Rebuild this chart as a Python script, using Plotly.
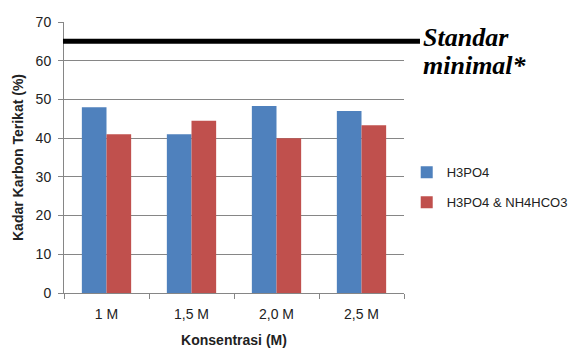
import plotly.graph_objects as go

categories = ["1 M", "1,5 M", "2,0 M", "2,5 M"]
h3po4 = [48.0, 41.0, 48.3, 47.0]
h3po4_nh4hco3 = [41.0, 44.5, 40.0, 43.3]
standard_value = 65
y_ticks = [0, 10, 20, 30, 40, 50, 60, 70]

font_family = "Liberation Sans, Arial, sans-serif"
serif = "Liberation Serif, Times New Roman, serif"

fig = go.Figure()
fig.add_trace(go.Bar(x=categories, y=h3po4, name="H3PO4",
                     marker=dict(color="#4F81BD", line=dict(width=0)),
                     legendgroup="a"))
fig.add_trace(go.Bar(x=categories, y=h3po4_nh4hco3, name="H3PO4 & NH4HCO3",
                     marker=dict(color="#C0504D", line=dict(width=0)),
                     legendgroup="b"))

fig.add_shape(type="line", xref="paper", yref="y", x0=-0.003, x1=1.047,
              y0=standard_value, y1=standard_value,
              line=dict(color="black", width=5))
fig.add_annotation(xref="paper", yref="y", x=1.05, y=standard_value,
                   text="<b><i>Standar</i></b>", showarrow=False,
                   xanchor="left", yanchor="middle", yshift=4,
                   font=dict(family=serif, size=26, color="black"))
fig.add_annotation(xref="paper", yref="y", x=1.05, y=standard_value,
                   text="<b><i>minimal*</i></b>", showarrow=False,
                   xanchor="left", yanchor="middle", yshift=-24,
                   font=dict(family=serif, size=26, color="black"))

fig.update_layout(
    width=581, height=349,
    margin=dict(l=64, r=177, t=22, b=56, autoexpand=False),
    paper_bgcolor="white", plot_bgcolor="white",
    barmode="group", bargap=0.42, bargroupgap=0,
    font=dict(family=font_family, size=14, color="#222"),
    showlegend=True,
    legend=dict(x=1.008, y=0.39, xanchor="left", yanchor="middle",
                font=dict(size=13, color="#222"), tracegroupgap=10,
                bgcolor="rgba(0,0,0,0)"),
    xaxis=dict(type="category", showline=True, linecolor="#868686", linewidth=1,
               ticks="outside", tickson="boundaries", ticklen=5, tickcolor="#868686",
               showgrid=False, ticklabelstandoff=8,
               title=dict(text="<b>Konsentrasi (M)</b>", font=dict(size=14), standoff=14)),
    yaxis=dict(range=[0, 70], tickvals=y_ticks, showline=True, linecolor="#868686",
               linewidth=1, ticks="outside", ticklen=5, tickcolor="#868686",
               showgrid=True, gridcolor="#868686", gridwidth=1, zeroline=False,
               ticklabelstandoff=4,
               title=dict(text="<b>Kadar Karbon Terikat (%)</b>", font=dict(size=14),
                          standoff=8)),
)

fig.write_html("out.html")
